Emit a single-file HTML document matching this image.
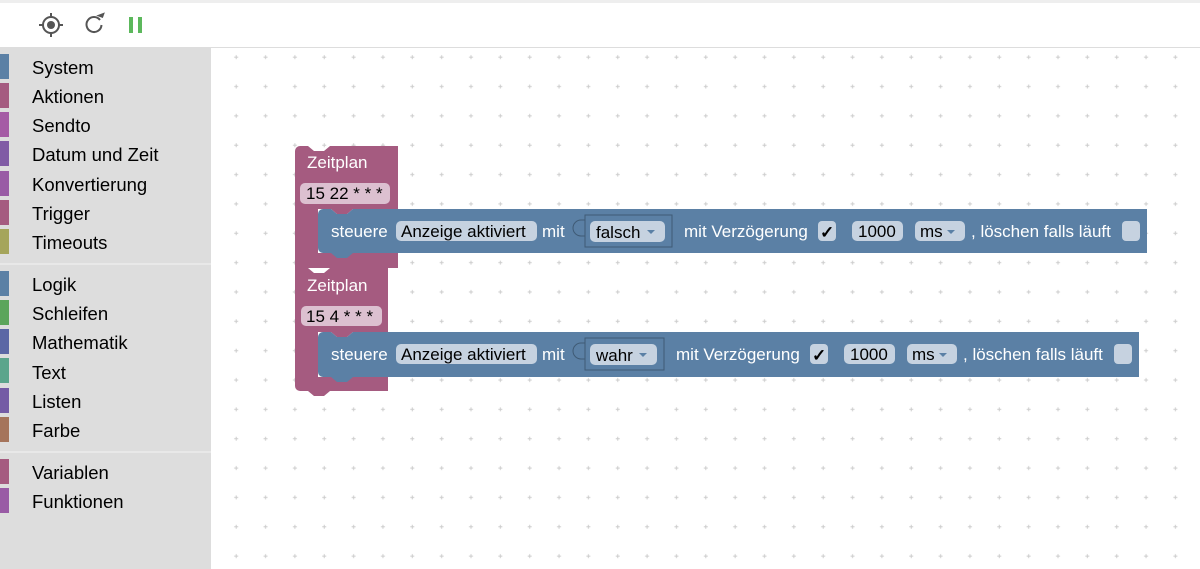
<!DOCTYPE html>
<html><head><meta charset="utf-8"><style>
html,body{margin:0;padding:0;width:1200px;height:569px;overflow:hidden;background:#fff;font-family:"Liberation Sans",Arial,sans-serif}
</style></head><body>
<svg width="1200" height="569" xmlns="http://www.w3.org/2000/svg" font-family="Liberation Sans, Arial, sans-serif">
<defs>
<pattern id="g" x="221.5" y="42.5" width="29.35" height="29.35" patternUnits="userSpaceOnUse">
<path d="M14.7 12.7v4M12.7 14.7h4" stroke="#ccc" stroke-width="1"/>
</pattern>
</defs>
<rect width="1200" height="569" fill="#fff"/>
<rect x="0" y="0" width="1200" height="3" fill="#eee"/>
<rect x="0" y="47" width="1200" height="1" fill="#ddd"/>
<rect x="211" y="48" width="989" height="521" fill="url(#g)"/>
<g fill="none" stroke="#555" stroke-width="2">
<circle cx="51" cy="25" r="8"/>
<path d="M51 13v4M51 33v4M39 25h4M59 25h4"/>
<path d="M100 20a7.5 7.5 0 1 0 1.5 5"/>
</g>
<circle cx="51" cy="25" r="4" fill="#555"/>
<path d="M96 17l7 0l0-6z" fill="#555" transform="rotate(20 100 17)"/>
<rect x="129" y="17" width="4" height="16" fill="#5cb85c"/><rect x="138" y="17" width="4" height="16" fill="#5cb85c"/>
<rect x="0" y="48" width="211" height="521" fill="#ddd"/>
<rect x="0" y="263" width="211" height="2" fill="#e8e8e8"/>
<rect x="0" y="451" width="211" height="2" fill="#e8e8e8"/>
<g font-size="18.5" fill="#000">
<rect x="0" y="54" width="9" height="25" fill="#5b80a5"/><text x="32" y="74">System</text>
<rect x="0" y="83" width="9" height="25" fill="#a55b80"/><text x="32" y="103">Aktionen</text>
<rect x="0" y="112" width="9" height="25" fill="#a55ba5"/><text x="32" y="132">Sendto</text>
<rect x="0" y="141" width="9" height="25" fill="#805ba5"/><text x="32" y="161">Datum und Zeit</text>
<rect x="0" y="171" width="9" height="25" fill="#995ba5"/><text x="32" y="191">Konvertierung</text>
<rect x="0" y="200" width="9" height="25" fill="#a55b80"/><text x="32" y="220">Trigger</text>
<rect x="0" y="229" width="9" height="25" fill="#a5a55b"/><text x="32" y="249">Timeouts</text>
<rect x="0" y="271" width="9" height="25" fill="#5b80a5"/><text x="32" y="291">Logik</text>
<rect x="0" y="300" width="9" height="25" fill="#5ba55b"/><text x="32" y="320">Schleifen</text>
<rect x="0" y="329" width="9" height="25" fill="#5b67a5"/><text x="32" y="349">Mathematik</text>
<rect x="0" y="358" width="9" height="25" fill="#5ba58c"/><text x="32" y="379">Text</text>
<rect x="0" y="388" width="9" height="25" fill="#745ba5"/><text x="32" y="408">Listen</text>
<rect x="0" y="417" width="9" height="25" fill="#a5745b"/><text x="32" y="437">Farbe</text>
<rect x="0" y="459" width="9" height="25" fill="#a55b80"/><text x="32" y="479">Variablen</text>
<rect x="0" y="488" width="9" height="25" fill="#995ba5"/><text x="32" y="508">Funktionen</text>
</g>
<!-- block 1 -->
<path d="M295 151a5 5 0 0 1 5-5H308l6 5h10l6-5H398V209H353l-6 5h-10l-6-5H318V253H398V268H295Z" fill="#a55b80"/>
<text x="307" y="168" font-size="17" fill="#fff">Zeitplan</text>
<rect x="300" y="183" width="90" height="21" rx="5" fill="#dcc0d0"/>
<text x="306" y="199" font-size="17" fill="#000">15 22 * * *</text>
<path d="M318 214a5 5 0 0 1 5-5H331l6 5h10l6-5H1147V253H353l-6 5h-10l-6-5H323a5 5 0 0 1-5-5Z" fill="#5b80a5"/>
<g font-size="17">
<text x="331" y="237" fill="#fff">steuere</text>
<rect x="396" y="221" width="141" height="20" rx="5" fill="#c6d2e0"/>
<text x="401" y="237" fill="#000">Anzeige aktiviert</text>
<text x="542" y="237" fill="#fff">mit</text>
<rect x="585" y="215" width="87" height="32" fill="#5b80a5" stroke="#3f5a75"/>
<path d="M585 220h-4a3 3 0 0 0 0 16h4" fill="none" stroke="#3f5a75"/>
<rect x="590" y="221" width="75" height="21" rx="5" fill="#c6d2e0"/>
<text x="596" y="238" fill="#000">falsch</text>
<path d="M647 230h8l-4 4z" fill="#5b80a5"/>
<text x="684" y="237" fill="#fff">mit Verzögerung</text>
<rect x="818" y="221" width="18" height="20" rx="4" fill="#c6d2e0"/>
<text x="820" y="238" fill="#000" font-weight="bold">✓</text>
<rect x="852" y="221" width="51" height="20" rx="5" fill="#c6d2e0"/>
<text x="858" y="237" fill="#000">1000</text>
<rect x="915" y="221" width="50" height="20" rx="5" fill="#c6d2e0"/>
<text x="920" y="237" fill="#000">ms</text>
<path d="M947 230h8l-4 4z" fill="#5b80a5"/>
<text x="971" y="237" fill="#fff">, löschen falls läuft</text>
<rect x="1122" y="221" width="18" height="20" rx="4" fill="#c6d2e0"/>
</g>
<!-- block 2 -->
<path d="M295 268H308l6 5h10l6-5H388V332H353l-6 5h-10l-6-5H318V377H388V391H330l-6 5h-10l-6-5H300a5 5 0 0 1-5-5Z" fill="#a55b80"/>
<text x="307" y="291" font-size="17" fill="#fff">Zeitplan</text>
<rect x="301" y="306" width="81" height="20" rx="5" fill="#dcc0d0"/>
<text x="306" y="322" font-size="17" fill="#000">15 4 * * *</text>
<path d="M318 337a5 5 0 0 1 5-5H331l6 5h10l6-5H1139V377H353l-6 5h-10l-6-5H323a5 5 0 0 1-5-5Z" fill="#5b80a5"/>
<g font-size="17">
<text x="331" y="360" fill="#fff">steuere</text>
<rect x="396" y="344" width="141" height="20" rx="5" fill="#c6d2e0"/>
<text x="401" y="360" fill="#000">Anzeige aktiviert</text>
<text x="542" y="360" fill="#fff">mit</text>
<rect x="585" y="338" width="79" height="32" fill="#5b80a5" stroke="#3f5a75"/>
<path d="M585 343h-4a3 3 0 0 0 0 16h4" fill="none" stroke="#3f5a75"/>
<rect x="590" y="344" width="67" height="21" rx="5" fill="#c6d2e0"/>
<text x="596" y="361" fill="#000">wahr</text>
<path d="M639 353h8l-4 4z" fill="#5b80a5"/>
<text x="676" y="360" fill="#fff">mit Verzögerung</text>
<rect x="810" y="344" width="18" height="20" rx="4" fill="#c6d2e0"/>
<text x="812" y="361" fill="#000" font-weight="bold">✓</text>
<rect x="844" y="344" width="51" height="20" rx="5" fill="#c6d2e0"/>
<text x="850" y="360" fill="#000">1000</text>
<rect x="907" y="344" width="50" height="20" rx="5" fill="#c6d2e0"/>
<text x="912" y="360" fill="#000">ms</text>
<path d="M939 353h8l-4 4z" fill="#5b80a5"/>
<text x="963" y="360" fill="#fff">, löschen falls läuft</text>
<rect x="1114" y="344" width="18" height="20" rx="4" fill="#c6d2e0"/>
</g>
</svg>
</body></html>
